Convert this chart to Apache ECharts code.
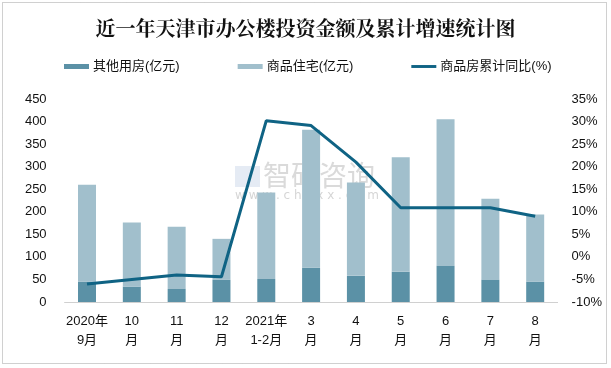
<!DOCTYPE html>
<html><head><meta charset="utf-8">
<script src="https://cdn.jsdelivr.net/npm/echarts@6/dist/echarts.min.js"></script>
<style>html,body{margin:0;padding:0;background:#fff}#c{width:611px;height:368px}</style>
</head><body><div id="c"></div>
<script>
const categories = ['2020年\n9月','10\n月','11\n月','12\n月','2021年\n1-2月','3\n月','4\n月','5\n月','6\n月','7\n月','8\n月'];
const otherUse = [45, 34, 29, 49, 51, 76, 58, 67, 80, 49, 45];
const totalHeights = [260, 176, 167, 140, 243, 382, 265, 321, 405, 229, 194];
const residential = totalHeights.map((t, i) => t - otherUse[i]);
const growth = [-6.0, -5.0, -4.0, -4.4, 30.2, 29.1, 21.0, 10.9, 10.9, 10.9, 9.0];
const leftTicks = {min: 0, max: 450, interval: 50};
const rightTicks = {min: -10, max: 35, interval: 5};

const font = '"Liberation Sans", "Noto Sans CJK SC", sans-serif';
const chart = echarts.init(document.getElementById('c'), null, {renderer: 'canvas'});
chart.setOption({
  animation: false,
  title: {
    text: '近一年天津市办公楼投资金额及累计增速统计图',
    left: 'center', top: 13,
    textStyle: {fontSize: 20, fontWeight: 'bold', color: '#111', fontFamily: '"Noto Serif CJK SC", "Noto Sans CJK SC", serif'}
  },
  legend: {
    top: 55, left: 59, itemGap: 58, itemWidth: 25, itemHeight: 5,
    textStyle: {fontSize: 13, color: '#111', fontFamily: font, padding: [0,0,0,-1]},
    data: [
      {name: '其他用房(亿元)', icon: 'rect'},
      {name: '商品住宅(亿元)', icon: 'rect'},
      {name: '商品房累计同比(%)', icon: 'path://M0,0 L30,0 L30,3.5 L0,3.5 Z'}
    ]
  },
  grid: {left: 64.6, right: 53.4, top: 99, bottom: 66},
  xAxis: {
    type: 'category', data: categories,
    axisLine: {lineStyle: {color: '#d0d0d0'}},
    axisTick: {show: false},
    axisLabel: {fontSize: 13, color: '#111', lineHeight: 19, margin: 10, interval: 0, fontFamily: font}
  },
  yAxis: [
    {type: 'value', min: leftTicks.min, max: leftTicks.max, interval: leftTicks.interval,
     splitLine: {show: false}, axisLine: {show: false}, axisTick: {show: false},
     axisLabel: {fontSize: 13, color: '#111', margin: 18, fontFamily: font}},
    {type: 'value', min: rightTicks.min, max: rightTicks.max, interval: rightTicks.interval,
     splitLine: {show: false}, axisLine: {show: false}, axisTick: {show: false},
     axisLabel: {fontSize: 13, color: '#111', margin: 14, formatter: '{value}%', fontFamily: font}}
  ],
  series: [
    {name: '其他用房(亿元)', type: 'bar', stack: 'a', barWidth: 18, data: otherUse,
     itemStyle: {color: '#5b91a6'}},
    {name: '商品住宅(亿元)', type: 'bar', stack: 'a', barWidth: 18, data: residential,
     itemStyle: {color: '#a1bfcc'}},
    {name: '商品房累计同比(%)', type: 'line', yAxisIndex: 1, data: growth,
     symbol: 'none', lineStyle: {color: '#0f6384', width: 3}, itemStyle: {color: '#0f6384'}, z: 5}
  ],
  graphic: [
    {type: 'rect', shape: {x: 2.5, y: 2.5, width: 604, height: 361},
     style: {fill: 'none', stroke: '#a0a0a0', lineWidth: 1, lineDash: [1, 1]}, silent: true},
    {type: 'text', left: 263, top: 161, z: 0,
     style: {text: '智研咨询', font: '28px "Noto Sans CJK SC"', fill: 'rgba(150,150,150,0.35)'}},
    {type: 'text', left: 235, top: 190, z: 0,
     style: {text: 'w w w . c h y x x . c o m', font: '12px "DejaVu Sans"', fill: 'rgba(150,150,150,0.4)'}},
    {type: 'rect', shape: {x: 235, y: 166, width: 25, height: 21}, z: 0,
     style: {fill: 'rgba(170,190,220,0.3)'}}
  ]
});
</script></body></html>
